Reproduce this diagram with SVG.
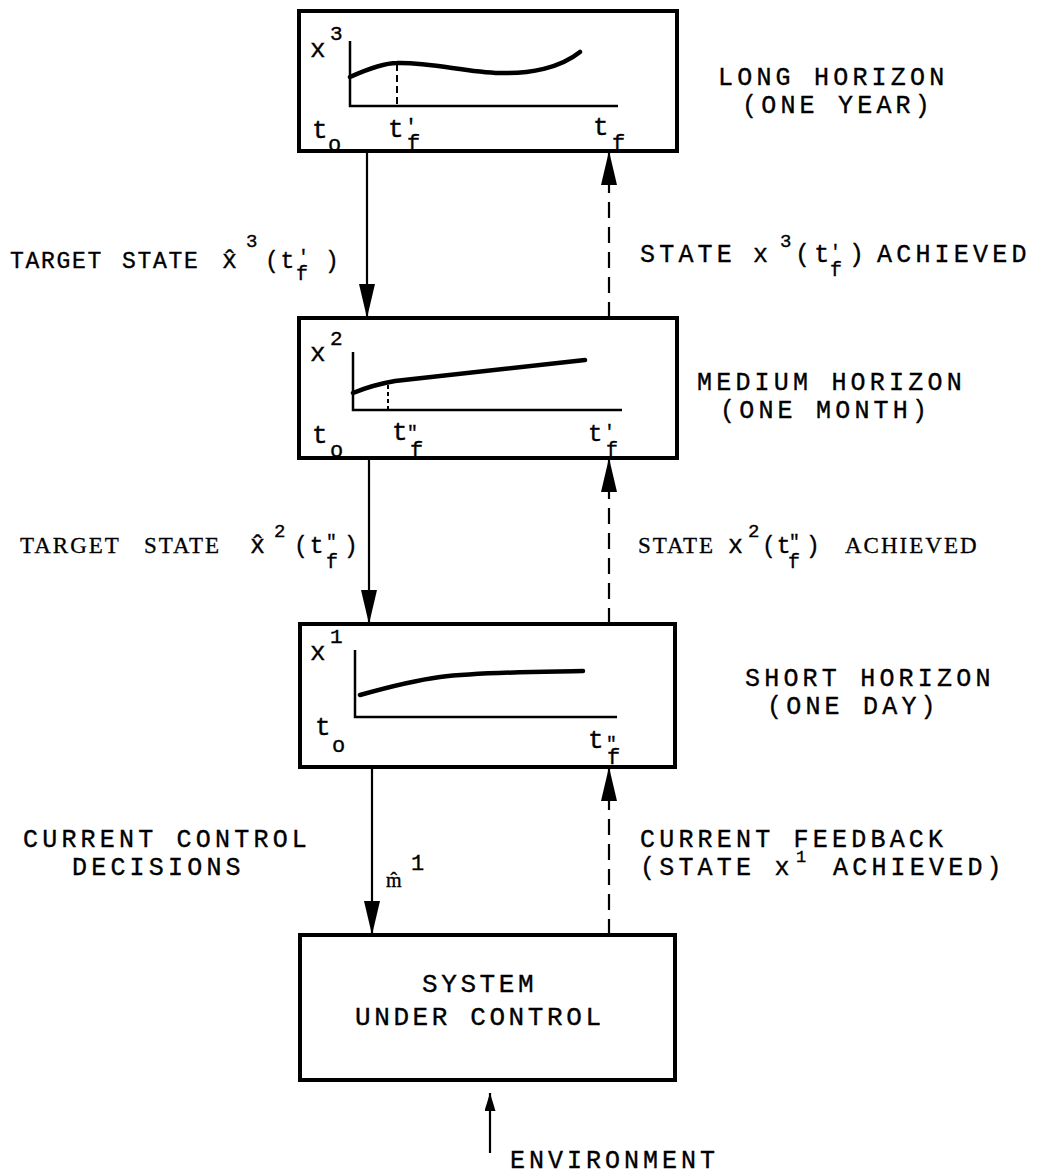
<svg xmlns="http://www.w3.org/2000/svg" width="1049" height="1175" viewBox="0 0 1049 1175">
<style>
.box{fill:none;stroke:#000;stroke-width:4}
.ax{fill:none;stroke:#000;stroke-width:2.5}
.crv{fill:none;stroke:#000;stroke-width:4.5;stroke-linecap:round}
.m{font-family:"Liberation Mono","DejaVu Sans Mono",monospace;fill:#000;stroke:#000;stroke-width:0.35}
.s{font-family:"Liberation Serif","DejaVu Serif",serif;fill:#000;stroke:#000;stroke-width:0.3}
.lab{font-size:25px;letter-spacing:4.2px}
.tl{font-size:23px;letter-spacing:1.7px}
.sl{font-size:23px;letter-spacing:2px}
.con{fill:none;stroke:#000;stroke-width:2.2}
.dash{stroke-dasharray:16 9}
</style>
<defs>
<marker id="ah" markerUnits="userSpaceOnUse" markerWidth="34" markerHeight="16" refX="34" refY="8" orient="auto">
<path d="M0,0 L34,8 L0,16 z" fill="#000"/>
</marker>
<marker id="ahs" markerUnits="userSpaceOnUse" markerWidth="18" markerHeight="11" refX="18" refY="5.5" orient="auto">
<path d="M0,0 L18,5.5 L0,11 z" fill="#000"/>
</marker>
</defs>

<g id="long-horizon">
<rect class="box" x="299" y="11" width="378" height="140"/>
<polyline class="ax" points="350,41 350,106 618,106"/>
<path class="crv" d="M350,77 C370,68 385,63 397,63 C430,62 465,72 500,73 C530,74 560,68 580,52"/>
<line x1="397" y1="64" x2="397" y2="106" stroke="#000" stroke-width="2" stroke-dasharray="7 4"/>
<text class="m"><tspan x="310" y="57" font-size="26">x</tspan><tspan x="330" y="40" font-size="21">3</tspan></text>
<text class="m"><tspan x="312" y="138" font-size="26">t</tspan><tspan x="328" y="151" font-size="22">o</tspan></text>
<text class="m"><tspan x="388" y="137" font-size="26">t</tspan><tspan x="405" y="133" font-size="20">'</tspan><tspan x="407" y="150" font-size="22">f</tspan></text>
<text class="m"><tspan x="593" y="135" font-size="26">t</tspan><tspan x="612" y="150" font-size="22">f</tspan></text>
</g>
<g id="long-label">
<text class="m lab" x="718" y="85">LONG HORIZON</text>
<text class="m lab" x="742" y="113">(ONE YEAR)</text>
</g>

<g id="medium-horizon">
<rect class="box" x="299" y="318" width="378" height="140"/>
<polyline class="ax" points="353,352 353,410 622,410"/>
<path class="crv" d="M353,393 Q372,385 395,381 L585,360"/>
<line x1="388" y1="385" x2="388" y2="410" stroke="#000" stroke-width="2" stroke-dasharray="4 3"/>
<text class="m"><tspan x="310" y="361" font-size="26">x</tspan><tspan x="330" y="345" font-size="21">2</tspan></text>
<text class="m"><tspan x="312" y="443" font-size="26">t</tspan><tspan x="330" y="457" font-size="22">o</tspan></text>
<text class="m"><tspan x="392" y="440" font-size="26">t</tspan><tspan x="407" y="438" font-size="18">"</tspan><tspan x="410" y="457" font-size="22">f</tspan></text>
<text class="m"><tspan x="588" y="441" font-size="24">t</tspan><tspan x="604" y="437" font-size="18">'</tspan><tspan x="606" y="456" font-size="20">f</tspan></text>
</g>
<g id="medium-label">
<text class="m lab" x="697" y="390">MEDIUM HORIZON</text>
<text class="m lab" x="720" y="418">(ONE MONTH)</text>
</g>

<g id="short-horizon">
<rect class="box" x="300" y="624" width="375" height="143"/>
<polyline class="ax" points="355,650 355,717 617,717"/>
<path class="crv" d="M360,695 C385,688 410,681 440,677 C480,672 530,672 583,671"/>
<text class="m"><tspan x="310" y="660" font-size="26">x</tspan><tspan x="330" y="643" font-size="21">1</tspan></text>
<text class="m"><tspan x="315" y="735" font-size="26">t</tspan><tspan x="332" y="752" font-size="22">o</tspan></text>
<text class="m"><tspan x="588" y="748" font-size="26">t</tspan><tspan x="606" y="749" font-size="18">"</tspan><tspan x="607" y="764" font-size="22">f</tspan></text>
</g>
<g id="short-label">
<text class="m lab" x="745" y="686">SHORT HORIZON</text>
<text class="m lab" x="767" y="714">(ONE DAY)</text>
</g>

<g id="system">
<rect class="box" x="300" y="935" width="375" height="145"/>
<text class="m" x="422" y="992" font-size="26" letter-spacing="3.6">SYSTEM</text>
<text class="m" x="355" y="1025" font-size="26" letter-spacing="3.6">UNDER CONTROL</text>
</g>

<g id="environment">
<text class="m" x="510" y="1168" font-size="25" letter-spacing="4">ENVIRONMENT</text>
</g>

<g id="connectors">
<line class="con" x1="367" y1="151" x2="367" y2="318" marker-end="url(#ah)"/>
<line class="con dash" x1="609" y1="318" x2="609" y2="151" marker-end="url(#ah)"/>
<line class="con" x1="369" y1="458" x2="369" y2="624" marker-end="url(#ah)"/>
<line class="con dash" x1="609" y1="624" x2="609" y2="458" marker-end="url(#ah)"/>
<line class="con" x1="372" y1="767" x2="372" y2="935" marker-end="url(#ah)"/>
<line class="con dash" x1="609" y1="935" x2="609" y2="767" marker-end="url(#ah)"/>
<line class="con" x1="490" y1="1153" x2="490" y2="1093" marker-end="url(#ahs)"/>
</g>

<g id="connector-labels">
<text class="m"><tspan class="tl" x="10" y="268">TARGET</tspan><tspan class="tl" x="122" y="268">STATE</tspan><tspan x="222" y="268" font-size="25">x&#x302;</tspan><tspan x="246" y="247" font-size="19">3</tspan><tspan class="tl" x="265" y="268">(t</tspan><tspan x="298" y="262" font-size="18">'</tspan><tspan x="296" y="280" font-size="20">f</tspan><tspan class="tl" x="325" y="268">)</tspan></text>

<text class="m"><tspan class="lab" x="640" y="262">STATE</tspan><tspan x="753" y="262" font-size="25">x</tspan><tspan x="780" y="247" font-size="19">3</tspan><tspan class="lab" x="795" y="262">(t</tspan><tspan x="830" y="257" font-size="18">'</tspan><tspan x="830" y="276" font-size="20">f</tspan><tspan class="lab" x="849" y="262">)</tspan><tspan class="lab" x="877" y="262">ACHIEVED</tspan></text>

<text class="s"><tspan class="sl" x="20" y="553">TARGET</tspan><tspan class="sl" x="144" y="553">STATE</tspan></text>
<text class="m"><tspan x="250" y="553" font-size="25">x&#x302;</tspan><tspan x="274" y="537" font-size="19">2</tspan><tspan x="294" y="553" font-size="23" letter-spacing="2">(t</tspan><tspan x="326" y="547" font-size="18">"</tspan><tspan x="326" y="568" font-size="20">f</tspan><tspan x="344" y="553" font-size="23">)</tspan></text>

<text class="s"><tspan class="sl" x="638" y="553">STATE</tspan><tspan class="sl" x="845" y="553">ACHIEVED</tspan></text>
<text class="m"><tspan x="728" y="553" font-size="25">x</tspan><tspan x="748" y="537" font-size="19">2</tspan><tspan x="762" y="553" font-size="23" letter-spacing="1">(t</tspan><tspan x="789" y="547" font-size="18">"</tspan><tspan x="788" y="568" font-size="20">f</tspan><tspan x="806" y="553" font-size="23">)</tspan></text>

<text class="m lab"><tspan x="23" y="847">CURRENT CONTROL</tspan><tspan x="72" y="875">DECISIONS</tspan></text>
<text class="m"><tspan x="386" y="887" font-size="20" font-family="Liberation Serif">m&#x302;</tspan><tspan x="411" y="870" font-size="22">1</tspan></text>

<text class="m"><tspan class="lab" x="640" y="847">CURRENT FEEDBACK</tspan><tspan class="lab" x="640" y="875">(STATE x</tspan><tspan x="796" y="862" font-size="17">1</tspan><tspan class="lab" x="833" y="875">ACHIEVED)</tspan></text>
</g>
</svg>
